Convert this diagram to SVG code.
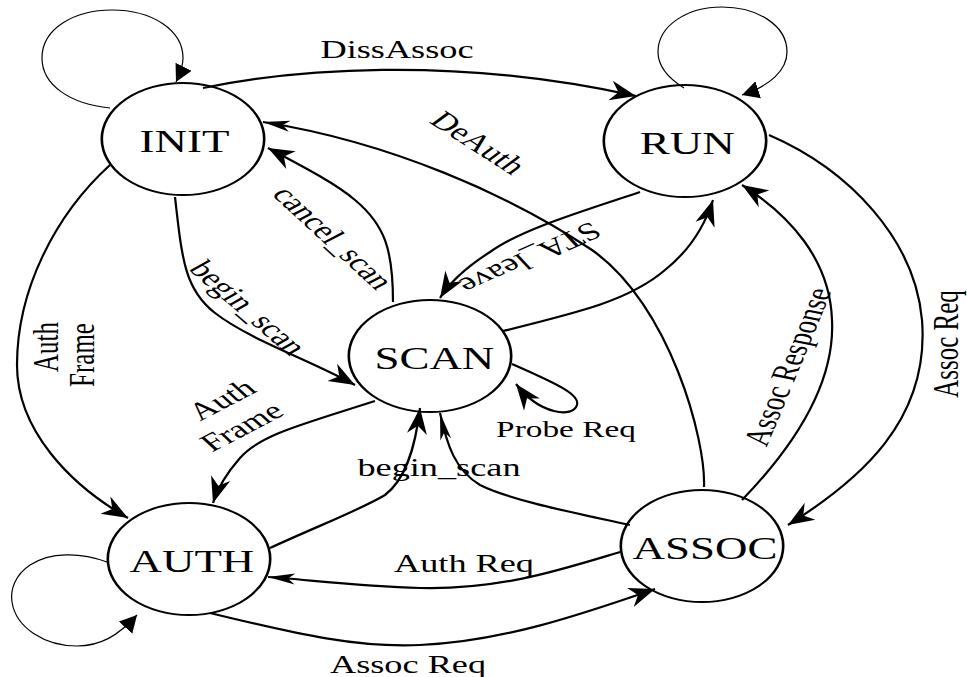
<svg xmlns="http://www.w3.org/2000/svg" width="967" height="677" viewBox="0 0 967 677">
  <defs>
    <style>
      text { font-family: "Liberation Serif", "Times New Roman", serif; fill: #000; }
      .node circle { fill: #fff; stroke: #000; stroke-width: 1.8; }
      .node text { font-size: 31px; text-anchor: middle; }
      .edge { fill: none; stroke: #000; stroke-width: 2.2; }
      .loop { fill: none; stroke: #000; stroke-width: 1.2; }
      .lbl { font-size: 25px; text-anchor: middle; }
    </style>
    <!-- indented (stealth) arrowhead -->
    <marker id="stealth" markerUnits="userSpaceOnUse" viewBox="0 -12 30 24" markerWidth="30" markerHeight="24" refX="26" refY="0" orient="auto">
      <path d="M0,-10 L26,0 L0,10 L8,0 z" fill="#000"/>
    </marker>
    <!-- slim indented arrowhead -->
    <marker id="slim" markerUnits="userSpaceOnUse" viewBox="0 -12 30 24" markerWidth="30" markerHeight="24" refX="27" refY="0" orient="auto">
      <path d="M0,-5.5 L27,0 L0,5.5 L7,0 z" fill="#000"/>
    </marker>
    <!-- plain triangle for the self loops -->
    <marker id="tri" markerUnits="userSpaceOnUse" viewBox="0 -10 20 20" markerWidth="20" markerHeight="20" refX="17" refY="0" orient="auto">
      <path d="M0,-9 L17,0 L0,9 z" fill="#000"/>
    </marker>
  </defs>

  <rect width="967" height="677" fill="#fff"/>

  <!-- states -->
  <g id="node-init" class="node" transform="translate(183,139) scale(1.45,1)">
    <circle r="56"/><text x="1" y="12.5">INIT</text>
  </g>
  <g id="node-run" class="node" transform="translate(685,141) scale(1.45,1)">
    <circle r="56"/><text x="1.5" y="12.5">RUN</text>
  </g>
  <g id="node-scan" class="node" transform="translate(430,356) scale(1.45,1)">
    <circle r="56"/><text x="3" y="12.5">SCAN</text>
  </g>
  <g id="node-auth" class="node" transform="translate(189,559) scale(1.45,1)">
    <circle r="56"/><text x="2" y="12.5">AUTH</text>
  </g>
  <g id="node-assoc" class="node" transform="translate(702,546) scale(1.45,1)">
    <circle r="56"/><text x="2" y="12.5">ASSOC</text>
  </g>

  <!-- transitions -->
  <g id="connectors">
    <path class="loop" marker-end="url(#tri)" d="M110,108 C70,104 42,85 42,58 C42,28 75,10 112,10 C152,10 183,30 183,58 C183,66 180,74 176,82"/>
    <path class="loop" marker-end="url(#tri)" d="M684,88 C668,78 658,66 658,52 C658,25 688,7 722,7 C757,7 787,25 787,52 C787,70 770,86 742,95"/>
    <path class="loop" marker-end="url(#tri)" d="M107,562 C80,552 50,552 30,565 C15,575 10,590 12,602 C16,628 45,646 77,646 C100,646 118,636 137,615"/>

    <path class="edge" marker-end="url(#stealth)" d="M203,88 C290,70 450,55 636,96"/>
    <path class="edge" marker-end="url(#slim)" d="M704,487 C706,440 670,305 592,250 C510,195 390,142 263,122"/>
    <path class="edge" marker-end="url(#stealth)" d="M393,302 C393,250 385,225 355,200 C335,183 300,165 268,148"/>
    <path class="edge" marker-end="url(#stealth)" d="M175,197 C182,260 185,290 215,313 C250,340 310,360 355,385"/>
    <path class="edge" marker-end="url(#stealth)" d="M110,165 C55,215 17,290 17,365 C17,430 70,485 128,518"/>
    <path class="edge" marker-end="url(#stealth)" d="M375,401 C300,425 260,435 240,458 C225,475 217,490 213,503"/>
    <path class="edge" marker-end="url(#stealth)" d="M270,548 C320,525 360,510 385,495 C405,480 415,450 420,408"/>
    <path class="edge" marker-end="url(#slim)" d="M630,525 C570,512 510,500 480,485 C455,470 447,445 440,413"/>
    <path class="edge" marker-end="url(#stealth)" d="M512,364 C560,385 580,395 577,405 C573,418 540,415 516,384"/>
    <path class="edge" marker-end="url(#stealth)" d="M503,331 C580,312 630,300 665,270 C690,250 705,225 713,200"/>
    <path class="edge" marker-end="url(#stealth)" d="M640,192 C580,212 520,230 490,252 C465,268 450,282 440,298"/>
    <path class="edge" marker-end="url(#stealth)" d="M769,135 C850,170 915,240 922,320 C930,420 860,480 788,525"/>
    <path class="edge" marker-end="url(#stealth)" d="M742,500 C800,440 835,380 832,320 C830,260 790,215 742,185"/>
    <path class="edge" marker-end="url(#slim)" d="M620,552 C560,570 500,590 420,588 C360,586 310,580 268,577"/>
    <path class="edge" marker-end="url(#stealth)" d="M210,613 C300,635 360,648 420,645 C500,642 580,615 655,589"/>
  </g>

  <!-- transition labels -->
  <g id="labels">
    <text class="lbl" transform="translate(397,58) scale(1.45,1)">DissAssoc</text>
    <text class="lbl" transform="translate(478,143) scale(1.45,1) rotate(43)" y="8">DeAuth</text>
    <text class="lbl" transform="translate(333,238) scale(1.45,1) rotate(53)" y="8">cancel_scan</text>
    <text class="lbl" transform="translate(248,308) scale(1.45,1) rotate(51)" y="8">begin_scan</text>
    <text class="lbl" transform="translate(46,347) scale(1.45,1) rotate(-90)" y="8">Auth</text>
    <text class="lbl" transform="translate(82,355) scale(1.45,1) rotate(-90)" y="8">Frame</text>
    <text class="lbl" transform="translate(222,400) scale(1.45,1) rotate(-37)" y="8">Auth</text>
    <text class="lbl" transform="translate(242,427) scale(1.45,1) rotate(-37)" y="8">Frame</text>
    <text class="lbl" transform="translate(439,476) scale(1.45,1)">begin_scan</text>
    <text class="lbl" transform="translate(566,437) scale(1.45,1)" style="font-size:23px">Probe Req</text>
    <text class="lbl" transform="translate(530,258) scale(1.45,1) rotate(147)" y="8">STA_leave</text>
    <text class="lbl" transform="translate(788,367) scale(1.45,1) rotate(-74)" y="8">Assoc Response</text>
    <text class="lbl" transform="translate(946,344) scale(1.45,1) rotate(-90)" y="8">Assoc Req</text>
    <text class="lbl" transform="translate(464,572) scale(1.45,1)">Auth Req</text>
    <text class="lbl" transform="translate(408,673) scale(1.45,1)">Assoc Req</text>
  </g>
</svg>
